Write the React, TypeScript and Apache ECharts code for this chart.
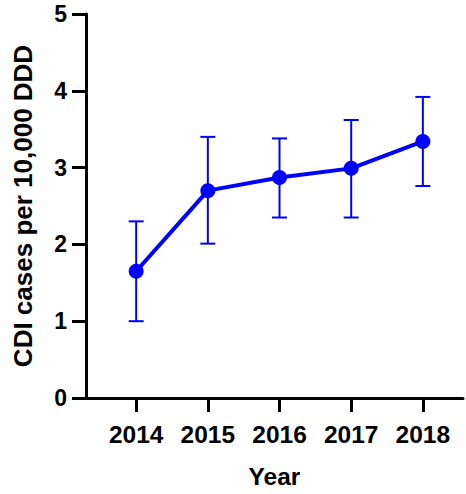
import React, { useEffect, useRef } from "react";
import * as echarts from "echarts";

const years = [2014, 2015, 2016, 2017, 2018];
const means = [1.65, 2.7, 2.87, 2.99, 3.34];
const upper = [2.3, 3.4, 3.38, 3.62, 3.92];
const lower = [1.0, 2.01, 2.35, 2.35, 2.76];
const yTicks = [0, 1, 2, 3, 4, 5];

const BLUE = "#0000FF";
const FONT = "Liberation Sans, Arial, sans-serif";

export default function App() {
  const ref = useRef<HTMLDivElement>(null);
  useEffect(() => {
    if (!ref.current) return;
    const chart = echarts.init(ref.current, null, { renderer: "svg" });
    const errData = years.map((y, i) => [y, lower[i], upper[i]]);
    chart.setOption({
      animation: false,
      grid: { left: 86, top: 14, right: 3, bottom: 96 },
      xAxis: {
        type: "value",
        min: 2013.3,
        max: 2018.56,
        name: "Year",
        nameLocation: "middle",
        nameGap: 66,
        nameTextStyle: { fontFamily: FONT, fontWeight: "bold", fontSize: 24.5, color: "#000" },
        axisLine: { show: true, lineStyle: { color: "#000", width: 3 } },
        axisTick: { show: true, customValues: years, length: 14, lineStyle: { color: "#000", width: 3 } },
        axisLabel: {
          customValues: years,
          margin: 24,
          fontFamily: FONT,
          fontWeight: "bold",
          fontSize: 24.5,
          color: "#000",
          formatter: (v: number) => String(Math.round(v)),
        },
        splitLine: { show: false },
      },
      yAxis: {
        type: "value",
        min: 0,
        max: 5,
        interval: 1,
        name: "CDI cases per 10,000 DDD",
        nameLocation: "middle",
        nameGap: 50,
        nameTextStyle: { fontFamily: FONT, fontWeight: "bold", fontSize: 26, color: "#000" },
        axisLine: { show: true, lineStyle: { color: "#000", width: 3 } },
        axisTick: { show: true, length: 14, lineStyle: { color: "#000", width: 3 } },
        axisLabel: {
          customValues: yTicks,
          margin: 19,
          fontFamily: FONT,
          fontWeight: "bold",
          fontSize: 23,
          color: "#000",
        },
        splitLine: { show: false },
      },
      series: [
        {
          type: "custom",
          data: errData,
          z: 1,
          renderItem: (params: any, api: any) => {
            const x = api.value(0);
            const lo = api.coord([x, api.value(1)]);
            const hi = api.coord([x, api.value(2)]);
            const hw = 7.5;
            const style = { stroke: BLUE, lineWidth: 2 };
            return {
              type: "group",
              children: [
                { type: "line", shape: { x1: lo[0], y1: lo[1], x2: hi[0], y2: hi[1] }, style },
                { type: "line", shape: { x1: hi[0] - hw, y1: hi[1], x2: hi[0] + hw, y2: hi[1] }, style },
                { type: "line", shape: { x1: lo[0] - hw, y1: lo[1], x2: lo[0] + hw, y2: lo[1] }, style },
              ],
            };
          },
        },
        {
          type: "line",
          data: years.map((y, i) => [y, means[i]]),
          z: 2,
          symbol: "circle",
          symbolSize: 15,
          itemStyle: { color: BLUE },
          lineStyle: { color: BLUE, width: 4 },
        },
      ],
    });
    return () => chart.dispose();
  }, []);
  return <div ref={ref} style={{ width: 466, height: 494, position: "absolute", left: 0, top: 0 }} />;
}
